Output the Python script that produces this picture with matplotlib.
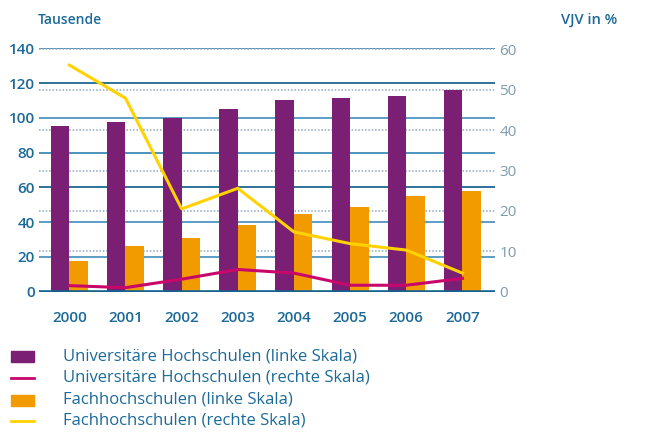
import matplotlib
matplotlib.use("Agg")
import matplotlib.pyplot as plt
from matplotlib.patches import Rectangle
from matplotlib.lines import Line2D
import numpy as np

years = ["2000", "2001", "2002", "2003", "2004", "2005", "2006", "2007"]
uni_left = [95.3, 97.6, 99.9, 105.0, 110.2, 111.4, 112.5, 116.2]
fh_left = [17.7, 26.3, 30.9, 38.4, 44.7, 48.7, 55.0, 57.9]
uni_right = [1.5, 1.0, 3.1, 5.5, 4.6, 1.6, 1.6, 3.3]
fh_right = [56.1, 47.9, 20.5, 25.6, 14.8, 11.9, 10.3, 4.6]
left_ticks = [0, 20, 40, 60, 80, 100, 120, 140]
right_ticks = [0, 10, 20, 30, 40, 50, 60]
legend_labels = ["Universitäre Hochschulen (linke Skala)",
                 "Universitäre Hochschulen (rechte Skala)",
                 "Fachhochschulen (linke Skala)",
                 "Fachhochschulen (rechte Skala)"]

PURPLE = "#7b1f74"
ORANGE = "#f29b00"
PINK = "#c8076b"
YELLOW = "#ffd200"
BLUE = "#1c6a99"
GREY = "#7f9aad"

plt.rcParams['font.family'] = ['Open Sans', 'DejaVu Sans']

fig = plt.figure(figsize=(6.5, 4.32), dpi=100)
ax = fig.add_axes([39/650, 1-291.7/432, (495-39)/650, (291.7-48.3)/432])
ax2 = ax.twinx()

x = np.arange(len(years))
w = 0.33
RMAX = 60.25

ax.set_ylim(0, 140)
ax.set_xlim(-0.54, 7.58)
ax2.set_ylim(0, RMAX)

grid_cols = {20: "#4f95bf", 40: "#4f95bf", 60: "#1f6592", 80: "#3f89b6",
             100: "#4f95bf", 120: "#1f6592", 140: "#3f89b6"}
for t in left_ticks[1:]:
    ax2.axhline(t * RMAX / 140, color=grid_cols[t], lw=1.3, zorder=0)
for t in right_ticks[1:]:
    ax2.axhline(t, color="#8fa8ba", lw=1.1, ls=(0, (1, 1.2)), zorder=0)

ax.bar(x - w/2, uni_left, w, color=PURPLE, zorder=2)
ax.bar(x + w/2, fh_left, w, color=ORANGE, zorder=2)
ax.axhline(0, color="#13628f", lw=2.6, zorder=3)
ax.plot(x, np.array(uni_right) * 140 / RMAX, color=PINK, lw=2.2, zorder=4)
ax.plot(x, np.array(fh_right) * 140 / RMAX, color=YELLOW, lw=2.2, zorder=4)

ax.set_zorder(2)
ax2.set_zorder(1)
ax.patch.set_visible(False)

ax.set_yticks(left_ticks)
ax.set_yticklabels([str(t) for t in left_ticks], color=BLUE, fontsize=11, fontweight='semibold')
ax2.set_yticks(right_ticks)
ax2.set_yticklabels([str(t) for t in right_ticks], color=GREY, fontsize=11)
ax.set_xticks(x)
ax.set_xticklabels(years, color=BLUE, fontsize=11, fontweight='semibold')
ax.tick_params(axis='both', length=0)
ax.tick_params(axis='y', pad=3)
ax.tick_params(axis='x', pad=14)
ax2.tick_params(axis='y', length=0, pad=3)
for a in (ax, ax2):
    for s in a.spines.values():
        s.set_visible(False)

fig.text(38/650, 1-20/432, "Tausende", color=BLUE, fontsize=10, fontweight='semibold', va='center', ha='left')
fig.text(617/650, 1-20/432, "VJV in %", color=BLUE, fontsize=10.5, fontweight='semibold', va='center', ha='right')

rows = [356.7, 377.7, 400, 420.7]
kinds = [("rect", PURPLE), ("line", PINK), ("rect", ORANGE), ("line", YELLOW)]
for yy, (k, c), lab in zip(rows, kinds, legend_labels):
    yf = 1 - yy/432
    if k == "rect":
        fig.add_artist(Rectangle((11/650, yf - 5.5/432), 23/650, 11/432, color=c, transform=fig.transFigure))
    else:
        fig.add_artist(Line2D([11/650, 34/650], [yf, yf], color=c, lw=2, transform=fig.transFigure))
    fig.text(63/650, yf, lab, color=BLUE, fontsize=12, va='center', ha='left')

fig.savefig("out.png", dpi=100)
